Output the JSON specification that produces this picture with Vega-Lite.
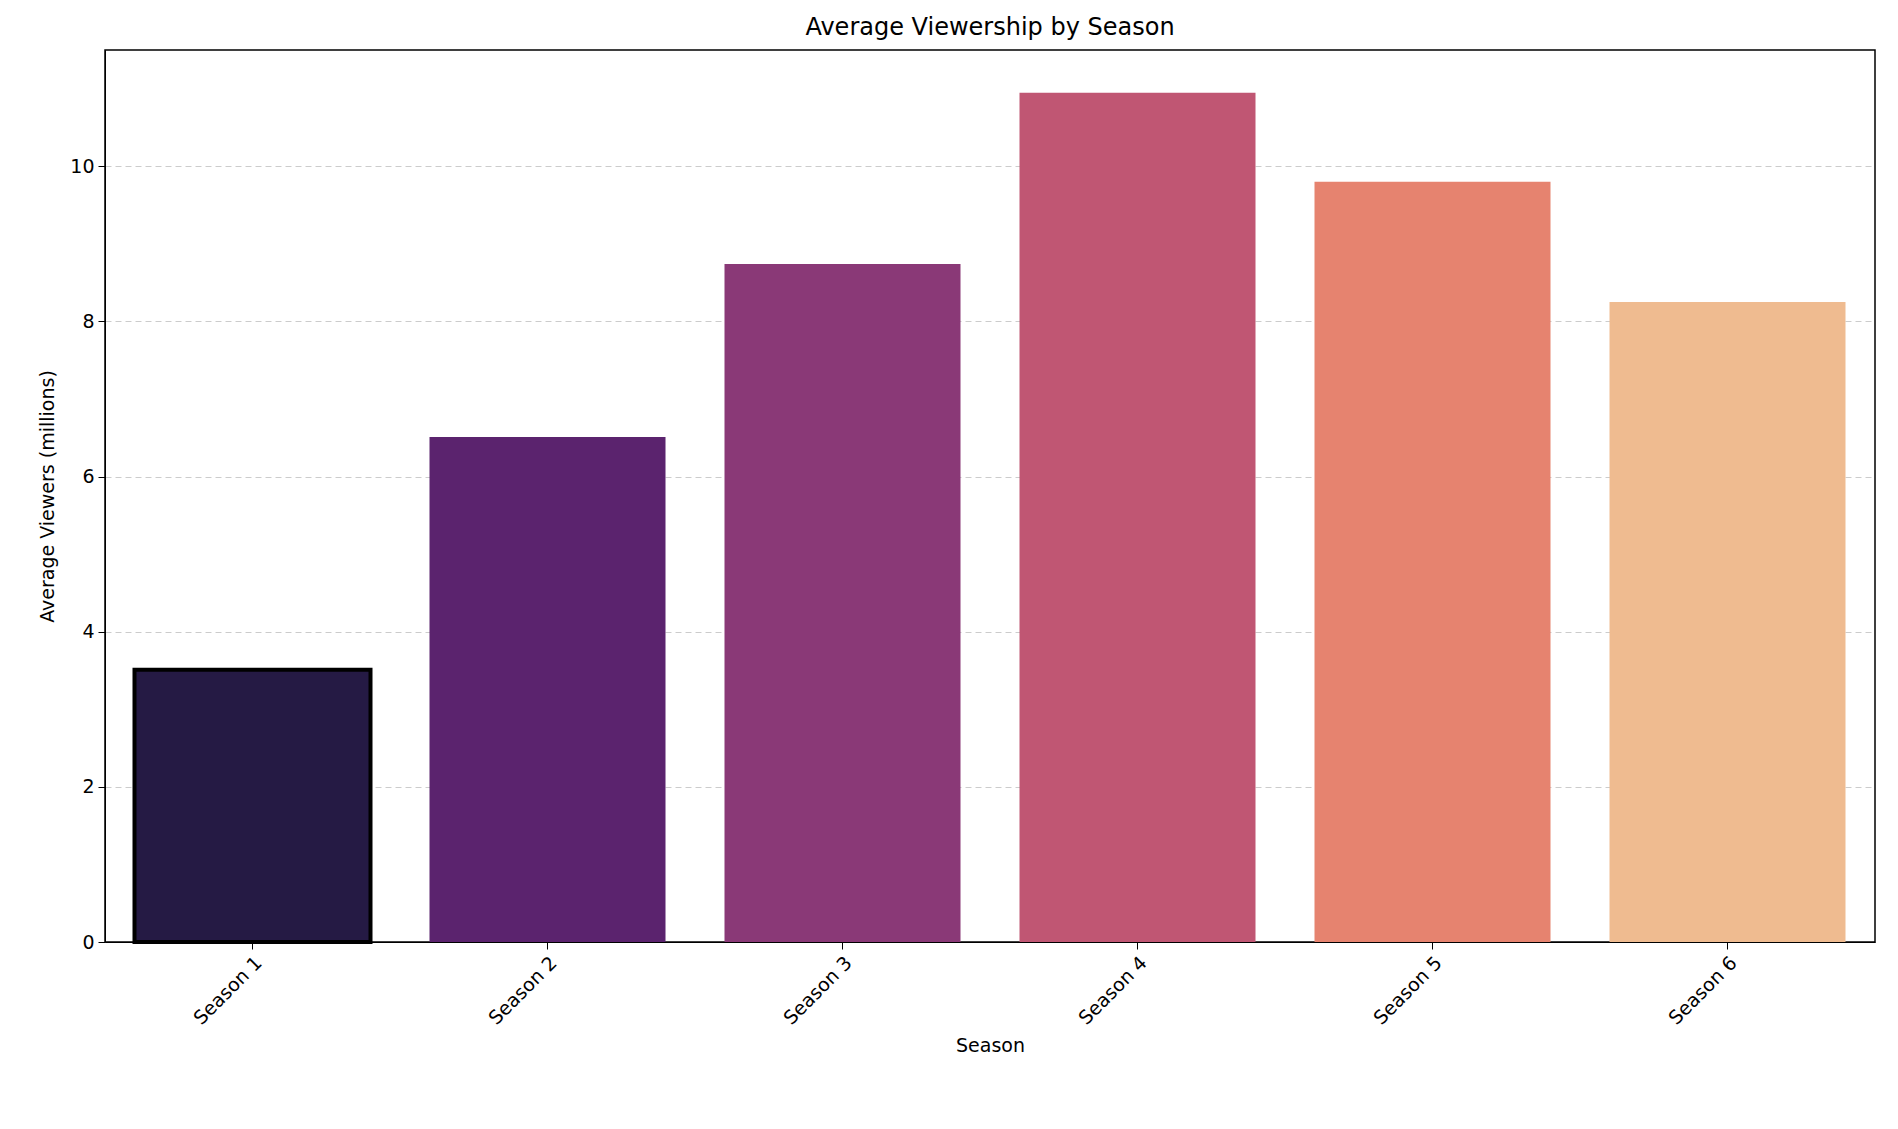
{
  "$schema": "https://vega.github.io/schema/vega-lite/v6.json",
  "width": 1770,
  "height": 892,
  "padding": {"left": 38, "top": 16, "right": 15, "bottom": 5},
  "background": "white",
  "config": {
    "font": "DejaVu Sans",
    "view": {"stroke": "black", "strokeWidth": 1.5},
    "axis": {"labelFontSize": 19, "titleFontSize": 19, "titleFontWeight": "normal", "labelColor": "black", "titleColor": "black", "domainColor": "black", "tickColor": "black", "tickSize": 7, "labelPadding": 4}
  },
  "title": {"text": "Average Viewership by Season", "fontSize": 24, "fontWeight": "normal", "offset": 10},
  "data": {
    "values": [
      {"Season": "Season 1", "Viewers": 3.51, "Color": "#251a44", "Edge": 4},
      {"Season": "Season 2", "Viewers": 6.51, "Color": "#5b236e", "Edge": 0},
      {"Season": "Season 3", "Viewers": 8.74, "Color": "#8a3977", "Edge": 0},
      {"Season": "Season 4", "Viewers": 10.95, "Color": "#c05673", "Edge": 0},
      {"Season": "Season 5", "Viewers": 9.8, "Color": "#e6836f", "Edge": 0},
      {"Season": "Season 6", "Viewers": 8.25, "Color": "#efbb90", "Edge": 0}
    ]
  },
  "mark": {"type": "bar", "stroke": "black"},
  "encoding": {
    "x": {
      "field": "Season", "type": "nominal", "title": "Season",
      "scale": {"paddingInner": 0.2, "paddingOuter": 0.1},
      "axis": {"labelAngle": -45, "labelAlign": "right", "labelBaseline": "top", "grid": false, "titlePadding": 8}
    },
    "y": {
      "field": "Viewers", "type": "quantitative", "title": "Average Viewers (millions)",
      "scale": {"domain": [0, 11.5], "nice": false},
      "axis": {"values": [0, 2, 4, 6, 8, 10], "grid": true, "gridDash": [6, 4], "gridColor": "#cccccc", "titlePadding": 12}
    },
    "color": {"field": "Color", "type": "nominal", "scale": null},
    "strokeWidth": {"field": "Edge", "type": "quantitative", "scale": null}
  }
}
